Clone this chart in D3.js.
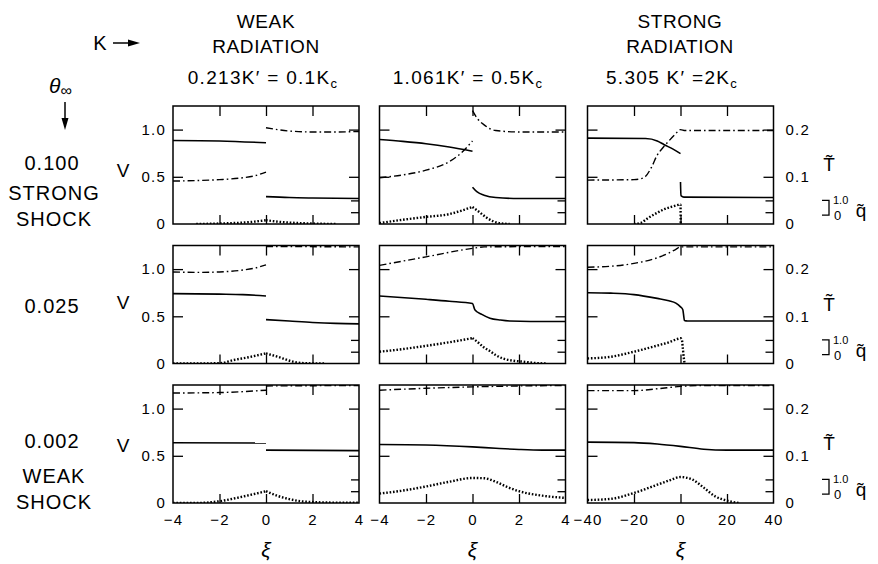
<!DOCTYPE html>
<html>
<head>
<meta charset="utf-8">
<script src="https://cdn.jsdelivr.net/npm/d3@7"></script>
<style>
  body { margin: 0; background: #fff; }
  svg text { font-family: "Liberation Sans", Arial, sans-serif; fill: #000; }
  .axis path.domain { display: none; }
  .axis line { stroke: #000; stroke-width: 1.3; }
</style>
</head>
<body>
<svg id="chart" width="878" height="564"></svg>
<script>
// tick values
var xiNarrow = [-4, -2, 0, 2, 4];
var xiWide = [-40, -20, 0, 20, 40];
var vTicks = [0, 0.5, 1.0];
var tTicks = [0, 0.1, 0.2];
var qTicks = [1, 2];

// row / column labels
var rowTheta = ["0.100", "0.025", "0.002"];
var rowShock = [["STRONG", "SHOCK"], [], ["WEAK", "SHOCK"]];
var colK = [["0.213K\u2032 = 0.1K", "c"], ["1.061K\u2032 = 0.5K", "c"], ["5.305 K\u2032 =2K", "c"]];

// curves, one array of segments per panel: [xi, value]
// V (solid), T~ (dash-dot), q~ (dotted)
var v11 = [[[-4, 0.885], [-2, 0.88], [0, 0.86]], [[0, 0.29], [1, 0.28], [2, 0.275], [4, 0.27]]];
var t11 = [[[-4, 0.091], [-3, 0.092], [-2, 0.094], [-1, 0.098], [-0.5, 0.102], [0, 0.11]],
           [[0, 0.204], [0.5, 0.2], [1, 0.197], [2, 0.195], [3, 0.195], [4, 0.196]]];
var q11 = [[[-3, 0], [-2, 0.04], [-1, 0.12], [-0.5, 0.2], [0, 0.32]], [[0, 0.32], [0.5, 0.2], [1, 0.12], [2, 0.04], [3, 0]]];

var v12 = [[[-4, 0.895], [-3, 0.875], [-2, 0.85], [-1, 0.815], [0, 0.77]],
           [[0, 0.39], [0.2, 0.34], [0.5, 0.305], [1, 0.28], [2, 0.27], [4, 0.27]]];
var t12 = [[[-4, 0.098], [-3, 0.104], [-2, 0.114], [-1, 0.132], [-0.5, 0.15], [0, 0.176]],
           [[0, 0.24], [0.2, 0.224], [0.5, 0.21], [1, 0.198], [2, 0.195], [4, 0.195]]];
var q12 = [[[-4, 0.08], [-3, 0.36], [-2, 0.6], [-1, 0.84], [-0.5, 1.12], [0, 1.44]],
           [[0, 1.44], [0.3, 1.0], [0.6, 0.55], [0.9, 0.22], [1.2, 0.06], [1.6, 0]]];

var v13 = [[[-40, 0.91], [-15, 0.905], [-10, 0.88], [-7, 0.84], [-3, 0.79], [0, 0.745]],
           [[0, 0.445], [0.2, 0.3], [1.5, 0.285], [40, 0.28]]];
var t13 = [[[-40, 0.093], [-20, 0.094], [-17, 0.096], [-15, 0.101], [-12.5, 0.12], [-10, 0.146],
            [-7.5, 0.162], [-5, 0.176], [-2.5, 0.189], [0, 0.2], [2, 0.198], [40, 0.198]]];
var q13 = [[[-20, 0], [-17, 0.1], [-14, 0.5], [-10, 0.95], [-7, 1.25], [-4, 1.45], [-1, 1.62], [0, 1.66], [0.1, 0]]];

var v21 = [[[-4, 0.74], [-2, 0.735], [-1, 0.73], [0, 0.715]], [[0, 0.465], [1, 0.45], [2, 0.435], [3, 0.425], [4, 0.42]]];
var t21 = [[[-4, 0.194], [-3, 0.193], [-2, 0.194], [-1, 0.198], [-0.5, 0.202], [0, 0.209]], [[0, 0.248], [4, 0.247]]];
var q21 = [[[-4, 0], [-2, 0.02], [-1.4, 0.29], [-0.7, 0.55], [0, 0.86]],
           [[0, 0.86], [0.5, 0.57], [1.2, 0.14], [1.75, 0.02], [2.5, 0]]];

var v22 = [[[-4, 0.715], [-2, 0.68], [-1, 0.66], [0, 0.635], [0.1, 0.57], [0.4, 0.52], [0.75, 0.48],
            [1.2, 0.46], [1.6, 0.45], [2.5, 0.445], [4, 0.445]]];
var t22 = [[[-4, 0.208], [-2, 0.226], [0, 0.244], [0.5, 0.247], [4, 0.248]]];
var q22 = [[[-4, 1.0], [-3, 1.22], [-2, 1.5], [-1, 1.8], [0, 2.15]],
           [[0, 2.15], [0.2, 1.85], [0.5, 1.35], [0.75, 1.05], [1.0, 0.72], [1.3, 0.43], [1.7, 0.25], [2.2, 0.15], [2.8, 0.03], [3.2, 0]]];

var v23 = [[[-40, 0.75], [-30, 0.745], [-20, 0.73], [-10, 0.69], [-5, 0.665], [-2, 0.64], [0, 0.6],
            [1, 0.57], [1.3, 0.52], [1.7, 0.455], [3, 0.45], [40, 0.45]]];
var t23 = [[[-40, 0.204], [-30, 0.206], [-20, 0.212], [-10, 0.224], [-5, 0.234], [-2, 0.242], [0, 0.247], [40, 0.247]]];
var q23 = [[[-40, 0.43], [-30, 0.57], [-20, 1.0], [-10, 1.52], [-5, 1.8], [-1, 2.1], [0, 2.15],
            [0.6, 2.0], [1.0, 1.3], [1.4, 0.5], [1.8, 0]]];

var v31 = [[[-4, 0.638], [0, 0.635]], [[0, 0.56], [4, 0.555]]];
var t31 = [[[-4, 0.233], [-2, 0.234], [0, 0.239]], [[0, 0.248], [4, 0.249]]];
var q31 = [[[-4, 0], [-3, 0], [-2, 0.15], [-1.1, 0.5], [0, 1.0]],
           [[0, 1.0], [0.5, 0.6], [1.0, 0.33], [1.5, 0.15], [2, 0.08], [3, 0.03], [4, 0.02]]];

var v32 = [[[-4, 0.62], [-2, 0.615], [0, 0.595], [1, 0.58], [2, 0.567], [3, 0.56], [4, 0.56]]];
var t32 = [[[-4, 0.239], [-2, 0.243], [0, 0.246], [2, 0.248], [4, 0.249]]];
var q32 = [[[-4, 0.8], [-3, 1.05], [-2, 1.4], [-1, 1.8], [0, 2.12], [0.5, 2.1], [1, 1.8], [1.5, 1.35],
            [2, 1.0], [3, 0.62], [4, 0.43]]];

var v33 = [[[-40, 0.645], [-20, 0.64], [-10, 0.625], [0, 0.6], [10, 0.57], [20, 0.56], [40, 0.56]]];
var t33 = [[[-40, 0.238], [-20, 0.238], [-10, 0.242], [0, 0.247], [10, 0.249], [40, 0.249]]];
var q33 = [[[-40, 0.25], [-30, 0.35], [-20, 0.85], [-10, 1.55], [-5, 1.9], [0, 2.2], [5, 2.0], [10, 1.3],
            [15, 0.55], [20, 0.2], [25, 0]]];

var panels = [
  { row: 0, col: 0, v: v11, t: t11, q: q11 },
  { row: 0, col: 1, v: v12, t: t12, q: q12 },
  { row: 0, col: 2, v: v13, t: t13, q: q13 },
  { row: 1, col: 0, v: v21, t: t21, q: q21 },
  { row: 1, col: 1, v: v22, t: t22, q: q22 },
  { row: 1, col: 2, v: v23, t: t23, q: q23 },
  { row: 2, col: 0, v: v31, t: t31, q: q31 },
  { row: 2, col: 1, v: v32, t: t32, q: q32 },
  { row: 2, col: 2, v: v33, t: t33, q: q33 }
];

var svg = d3.select("#chart");
var colX = [173, 379.5, 587.5], rowY = [106, 245.5, 385];
var pw = 186, ph = 118;
var colMid = colX.map(function(c) { return c + pw / 2; });

var y = d3.scaleLinear().domain([0, 1.25]).range([ph, 0]);
var yT = d3.scaleLinear().domain([0, 0.25]).range([ph, 0]);
var yQ = d3.scaleLinear().domain([0, 10]).range([ph, 0]);
var fmt1 = function(d) { return d === 0 ? "0" : d3.format(".1f")(d); };

function tidy(sel, size) {
  sel.attr("font-family", null).attr("font-size", size);
  sel.selectAll("text").style("fill", "#000").attr("letter-spacing", 1.2);
}

panels.forEach(function(p, i) {
  var x = d3.scaleLinear().domain(p.col === 2 ? [-40, 40] : [-4, 4]).range([0, pw]);
  var inner = p.col === 2 ? [-20, 0, 20] : [-2, 0, 2];
  var g = svg.append("g")
    .attr("transform", "translate(" + colX[p.col] + "," + rowY[p.row] + ")");

  g.append("clipPath").attr("id", "clip" + i)
    .append("rect").attr("width", pw).attr("height", ph);
  var plot = g.append("g").attr("clip-path", "url(#clip" + i + ")");

  var lineOf = function(sc) {
    return d3.line()
      .x(function(d) { return x(d[0]); })
      .y(function(d) { return sc(d[1]); })
      .curve(d3.curveMonotoneX);
  };

  plot.selectAll(".v").data(p.v).enter().append("path")
    .attr("d", lineOf(y)).attr("fill", "none")
    .attr("stroke", "#000").attr("stroke-width", 1.6);
  plot.selectAll(".t").data(p.t).enter().append("path")
    .attr("d", lineOf(yT)).attr("fill", "none")
    .attr("stroke", "#000").attr("stroke-width", 1.4)
    .attr("stroke-dasharray", "7,3,1.6,3");
  plot.selectAll(".q").data(p.q).enter().append("path")
    .attr("d", lineOf(yQ)).attr("fill", "none")
    .attr("stroke", "#000").attr("stroke-width", 2.4)
    .attr("stroke-dasharray", "1.6,1.8");

  // inward ticks on all four sides
  g.append("g").attr("class", "axis")
    .call(d3.axisBottom(x).tickValues(inner).tickSize(10).tickFormat(""));
  g.append("g").attr("class", "axis").attr("transform", "translate(0," + ph + ")")
    .call(d3.axisTop(x).tickValues(inner).tickSize(9).tickFormat(""));
  g.append("g").attr("class", "axis")
    .call(d3.axisRight(y).tickValues([0.5, 1]).tickSize(10).tickFormat(""));
  g.append("g").attr("class", "axis").attr("transform", "translate(" + pw + ",0)")
    .call(d3.axisLeft(yT).tickValues([0.1, 0.2]).tickSize(10).tickFormat(""));
  g.append("g").attr("class", "axis").attr("transform", "translate(" + pw + ",0)")
    .call(d3.axisLeft(yQ).tickValues(qTicks).tickSize(8).tickFormat(""));

  g.append("rect").attr("width", pw).attr("height", ph)
    .attr("fill", "none").attr("stroke", "#000").attr("stroke-width", 1.5);

  if (p.col === 0) {
    g.append("g").attr("class", "axis")
      .call(d3.axisLeft(y).tickValues(vTicks).tickSize(0).tickPadding(7).tickFormat(fmt1))
      .call(tidy, 15);
  }
  if (p.col === 2) {
    g.append("g").attr("class", "axis").attr("transform", "translate(" + pw + ",0)")
      .call(d3.axisRight(yT).tickValues(tTicks).tickSize(0).tickPadding(12).tickFormat(fmt1))
      .call(tidy, 15);
  }
  if (p.row === 2) {
    g.append("g").attr("class", "axis").attr("transform", "translate(0," + ph + ")")
      .call(d3.axisBottom(x).tickValues(p.col === 2 ? xiWide : xiNarrow).tickSize(0).tickPadding(11)
        .tickFormat(d3.format("d")))
      .call(tidy, 15);
  }
});

// column headings
var heads = svg.append("g").attr("font-size", 19).attr("text-anchor", "middle")
  .attr("letter-spacing", 0.6);
heads.append("text").attr("x", colMid[0]).attr("y", 28).text("WEAK");
heads.append("text").attr("x", colMid[0]).attr("y", 53).text("RADIATION");
heads.append("text").attr("x", 680).attr("y", 28).text("STRONG");
heads.append("text").attr("x", 680).attr("y", 53).text("RADIATION");
var kMid = [263, 468, 672];
colK.forEach(function(k, i) {
  var t = heads.append("text").attr("x", kMid[i]).attr("y", 84).attr("letter-spacing", 1.3);
  t.append("tspan").text(k[0]);
  t.append("tspan").attr("font-size", 13).attr("dy", 4).text(k[1]);
});

// K arrow and theta arrow
svg.append("text").attr("x", 100).attr("y", 50).attr("font-size", 20)
  .attr("text-anchor", "middle").text("K");
svg.append("line").attr("x1", 113).attr("y1", 43).attr("x2", 132).attr("y2", 43)
  .attr("stroke", "#000").attr("stroke-width", 1.5);
svg.append("path").attr("d", "M128,39.5L140,43L128,46.5Z").attr("fill", "#000");

var th = svg.append("text").attr("x", 49).attr("y", 93).attr("font-size", 21);
th.append("tspan").attr("font-style", "italic").text("\u03b8");
th.append("tspan").attr("font-size", 16).attr("dy", 3).text("\u221e");
svg.append("line").attr("x1", 65).attr("y1", 102).attr("x2", 65).attr("y2", 122)
  .attr("stroke", "#000").attr("stroke-width", 1.5);
svg.append("path").attr("d", "M61.5,118L65,130L68.5,118Z").attr("fill", "#000");

// row labels
var rowLab = svg.append("g").attr("font-size", 20).attr("text-anchor", "middle")
  .attr("letter-spacing", 1);
var thetaBase = [170, 313, 448];
rowTheta.forEach(function(s, i) {
  rowLab.append("text").attr("x", 52).attr("y", thetaBase[i]).text(s);
  rowShock[i].forEach(function(w, j) {
    rowLab.append("text").attr("x", 54).attr("y", thetaBase[i] + (i === 0 ? 30 : 35) + j * 26).text(w);
  });
});

// V, T~ and q~ labels per row
var vBase = [177, 309, 452];
rowY.forEach(function(r, i) {
  svg.append("text").attr("x", 123).attr("y", vBase[i]).attr("font-size", 19)
    .attr("text-anchor", "middle").text("V");
  svg.append("text").attr("x", 829).attr("y", r + 65).attr("font-size", 19)
    .attr("font-family", "DejaVu Sans, sans-serif")
    .attr("text-anchor", "middle").text("T\u0303");
  var bt = r + yQ(2), bb = r + yQ(1) + 3;
  svg.append("path").attr("d", "M822," + bt + "H829V" + bb + "H822")
    .attr("fill", "none").attr("stroke", "#000").attr("stroke-width", 1.3);
  svg.append("text").attr("x", 833).attr("y", bt + 4).attr("font-size", 11).text("1.0");
  svg.append("text").attr("x", 834).attr("y", bb + 5).attr("font-size", 13).text("0");
  svg.append("text").attr("x", 861).attr("y", bb + 2).attr("font-size", 19)
    .attr("font-family", "DejaVu Sans, sans-serif")
    .attr("text-anchor", "middle").text("q\u0303");
});

// xi labels
colMid.forEach(function(c) {
  svg.append("text").attr("x", c).attr("y", 557).attr("font-size", 21)
    .attr("font-family", "DejaVu Serif, serif").attr("font-style", "italic")
    .attr("text-anchor", "middle").text("\u03be");
});
</script>
</body>
</html>
